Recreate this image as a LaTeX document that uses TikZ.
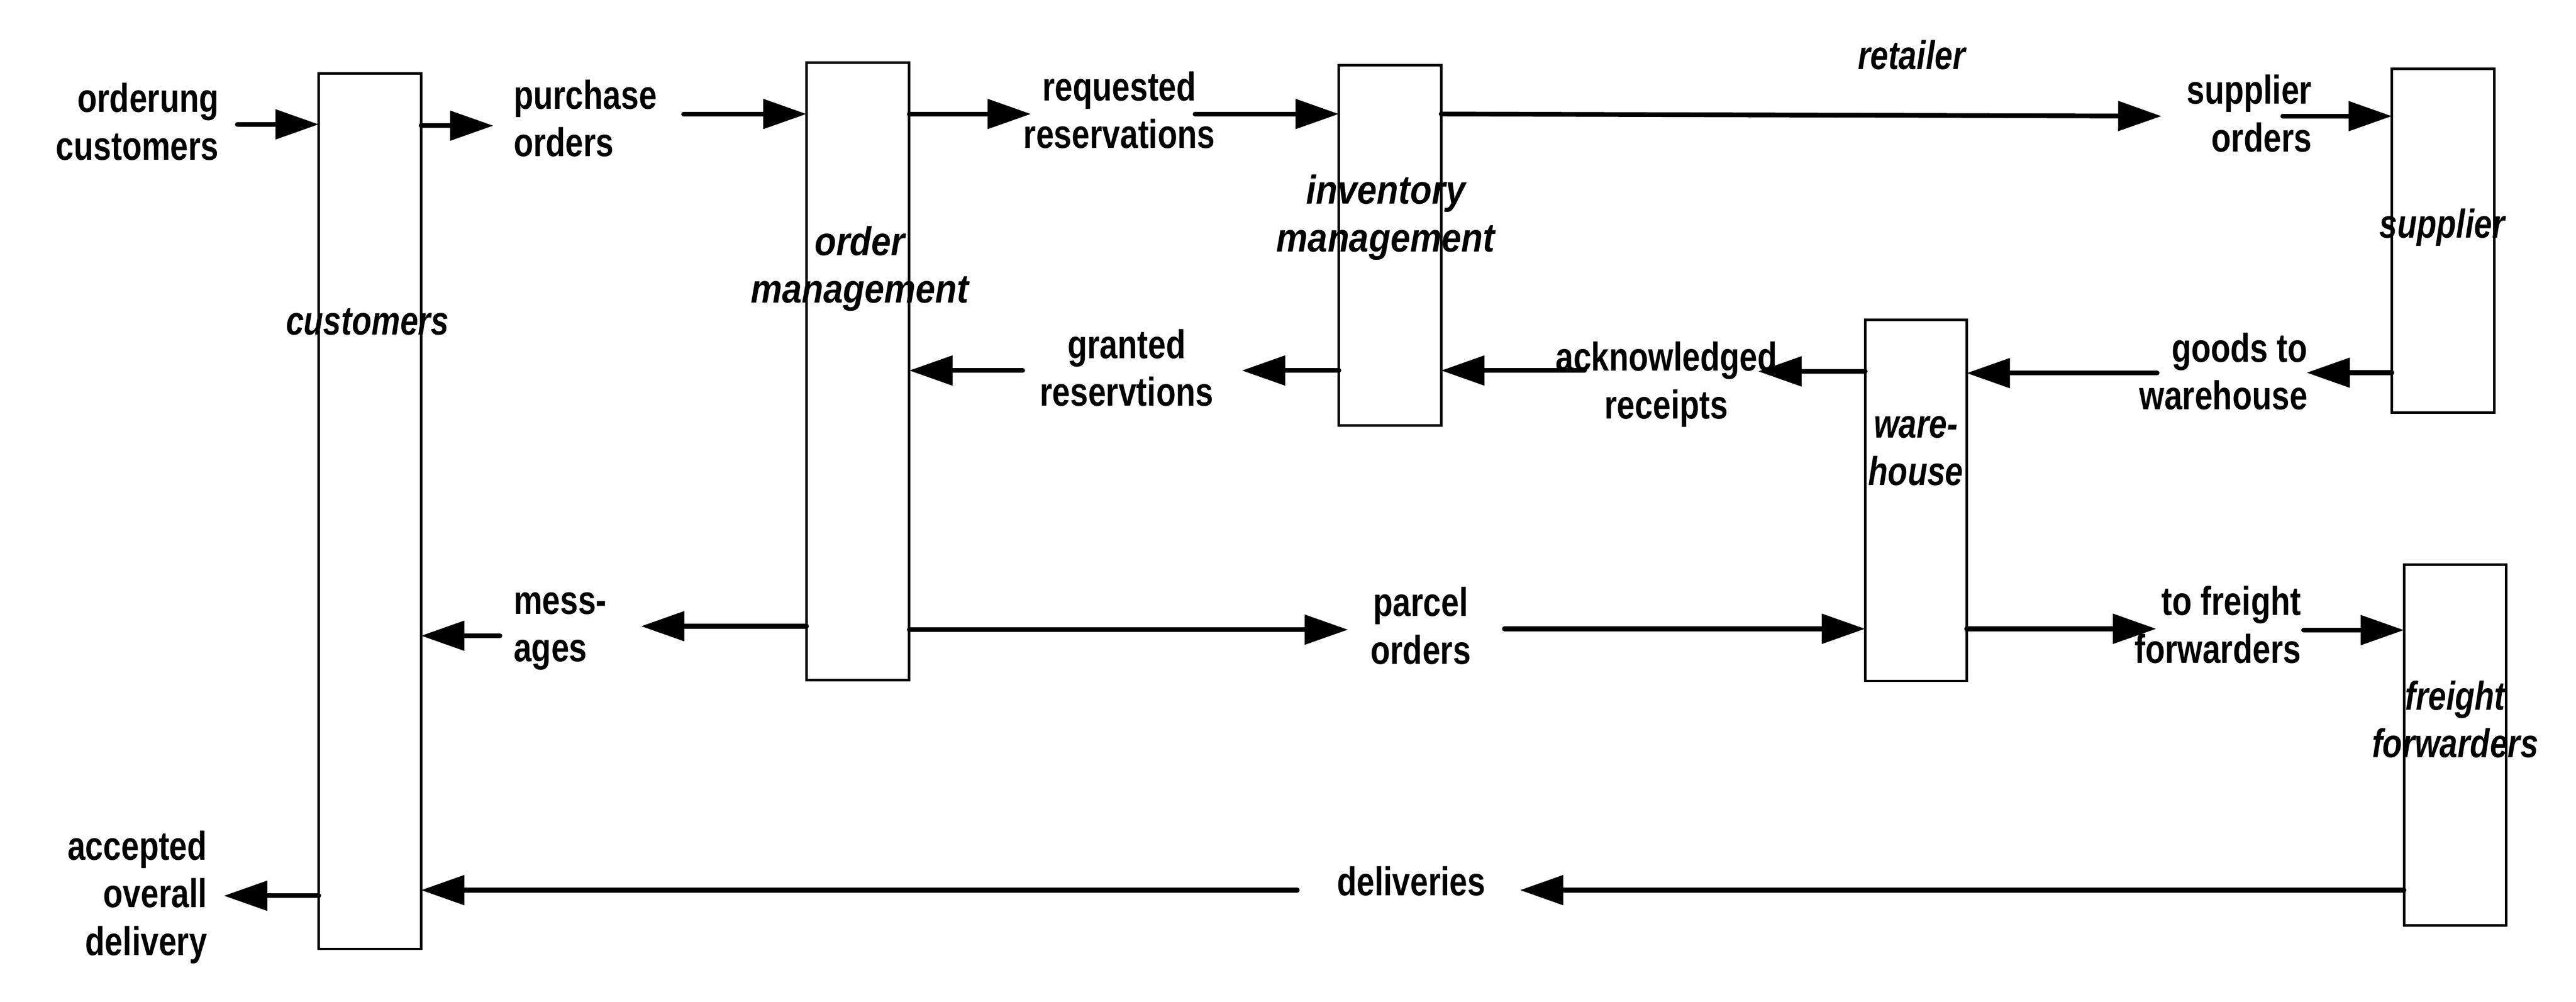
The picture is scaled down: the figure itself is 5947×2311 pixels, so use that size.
\documentclass[tikz,border=0pt]{standalone}
\usepackage{fontspec}
\newfontfamily\lblfont{Liberation Sans}[FakeStretch=0.8]
\newfontfamily\widefont{Liberation Sans}[FakeStretch=0.88]
\usetikzlibrary{arrows.meta}
\newcommand\lblsize{\fontsize{26.4}{31.3}\selectfont}
\begin{document}
\begin{tikzpicture}[x=0.01cm,y=-0.01cm,
  box/.style={draw, line width=1.6pt, inner sep=0pt, outer sep=0pt},
  lbl/.style={font=\lblfont\bfseries\lblsize, inner sep=0pt, outer sep=0pt, yshift=-0.07cm},
  ttl/.style={font=\lblfont\bfseries\itshape\lblsize, inner sep=0pt, outer sep=0pt, yshift=-0.07cm},
  wttl/.style={ttl, font=\widefont\bfseries\itshape\lblsize},
  flow/.style={line width=3.1pt, line cap=round, -{Triangle[length=1cm,width=0.67cm]}}]
\useasboundingbox (0,0) rectangle (5947,2311);

% boxes
\node[box, minimum width=2.36cm, minimum height=20.19cm] (cust) at (854,1179.5) {};
\node[box, minimum width=2.37cm, minimum height=14.24cm] (om) at (1980.5,857) {};
\node[box, minimum width=2.36cm, minimum height=8.31cm] (inv) at (3209,566.5) {};
\node[box, minimum width=2.34cm, minimum height=8.33cm] (wh) at (4423,1154.5) {};
\node[box, minimum width=2.36cm, minimum height=7.93cm] (sup) at (5640,555.5) {};
\node[box, minimum width=2.36cm, minimum height=8.32cm] (ff) at (5668,1719) {};

% box titles
\node[ttl] (tcust) at (848,743) {\strut customers};
\node[wttl, align=center] (tom) at (1985,615) {\strut order\\management\strut};
\node[wttl, align=center] (tinv) at (3199,497) {\strut inventory\\management\strut};
\node[ttl, align=center] (twh) at (4423,1036) {\strut ware-\\house\strut};
\node[ttl] (tsup) at (5638,520) {\strut supplier};
\node[ttl, align=center] (tff) at (5668,1664) {\strut freight\\forwarders\strut};
\node[ttl] (tret) at (4413,131) {\strut retailer};

% flow labels
\node[lbl, align=right, anchor=east] (lord) at (505,285) {\strut orderung\\customers\strut};
\node[lbl, align=left, anchor=west] (lpo) at (1186,277) {\strut purchase\\orders\strut};
\node[lbl, align=center] (lreq) at (2584,258) {\strut requested\\reservations\strut};
\node[lbl, align=center] (lgr) at (2601,853) {\strut granted\\reservtions\strut};
\node[lbl, align=center] (lack) at (3847,882) {\strut acknowledged\\receipts\strut};
\node[lbl, align=right, anchor=east] (lso) at (5337,266) {\strut supplier\\orders\strut};
\node[lbl, align=right, anchor=east] (lgw) at (5327,861) {\strut goods to\\warehouse\strut};
\node[lbl, align=left, anchor=west] (lmes) at (1186,1443) {\strut mess-\\ages\strut};
\node[lbl, align=center] (lpar) at (3280,1448) {\strut parcel\\orders\strut};
\node[lbl, align=right, anchor=east] (ltf) at (5312,1446) {\strut to freight\\forwarders\strut};
\node[lbl] (ldel) at (3258,2038) {\strut deliveries};
\node[lbl, align=right, anchor=east] (lacc) at (478,2065) {\strut accepted\\overall\\delivery\strut};

% free ends of connectors
\coordinate (p1) at (548,287);
\coordinate (p2) at (1139,290);
\coordinate (p3) at (1578,263);
\coordinate (p4) at (2380,263);
\coordinate (p5) at (2759,263);
\coordinate (p6) at (4990,268);
\coordinate (p7) at (5270,268);
\coordinate (p8) at (5325,860);
\coordinate (p9) at (4980,861);
\coordinate (p10) at (4059,857);
\coordinate (p11) at (3658,855);
\coordinate (p12) at (2867,855);
\coordinate (p13) at (2361,855);
\coordinate (p14) at (1480,1445);
\coordinate (p15) at (1154,1467);
\coordinate (p16) at (3112,1453);
\coordinate (p17) at (3473,1451);
\coordinate (p18) at (4978,1451);
\coordinate (p19) at (5318,1454);
\coordinate (p20) at (3509,2054);
\coordinate (p21) at (2995,2054);
\coordinate (p22) at (517,2067);

% connectors
\draw[flow] (p1) -- (cust.west |- p1);
\draw[flow] (cust.east |- p2) -- (p2);
\draw[flow] (p3) -- (om.west |- p3);
\draw[flow] (om.east |- p4) -- (p4);
\draw[flow] (p5) -- (inv.west |- p5);
\draw[flow] (inv.east |- p5) -- (p6);
\draw[flow] (p7) -- (sup.west |- p7);
\draw[flow] (sup.west |- p8) -- (p8);
\draw[flow] (p9) -- (wh.east |- p9);
\draw[flow] (wh.west |- p10) -- (p10);
\draw[flow] (p11) -- (inv.east |- p11);
\draw[flow] (inv.west |- p12) -- (p12);
\draw[flow] (p13) -- (om.east |- p13);
\draw[flow] (om.west |- p14) -- (p14);
\draw[flow] (p15) -- (cust.east |- p15);
\draw[flow] (om.east |- p16) -- (p16);
\draw[flow] (p17) -- (wh.west |- p17);
\draw[flow] (wh.east |- p18) -- (p18);
\draw[flow] (p19) -- (ff.west |- p19);
\draw[flow] (ff.west |- p20) -- (p20);
\draw[flow] (p21) -- (cust.east |- p21);
\draw[flow] (cust.west |- p22) -- (p22);
\end{tikzpicture}
\end{document}
